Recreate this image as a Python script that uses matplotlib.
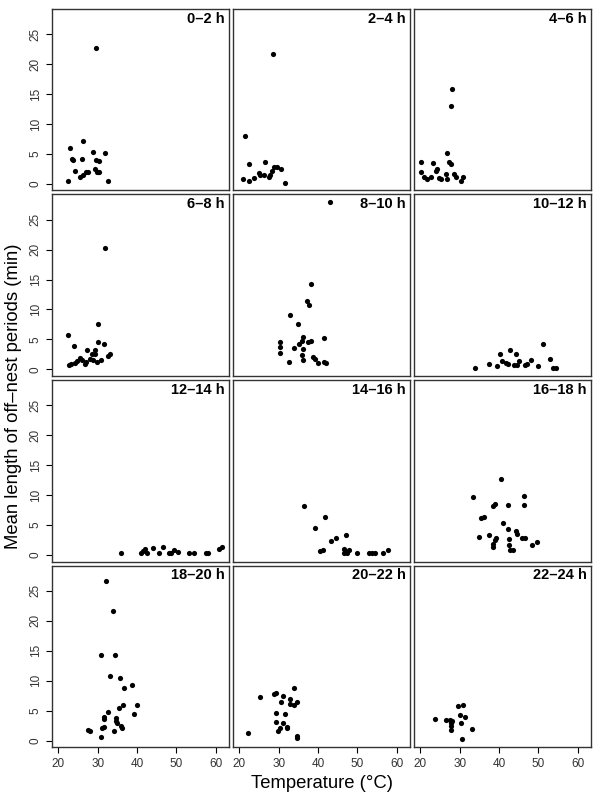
import numpy as np
from matplotlib import pyplot as plt

plt.rcParams["font.family"] = ["Liberation Sans", "DejaVu Sans"]

# time windows shown in each panel
periods = ["0–2 h", "2–4 h", "4–6 h", "6–8 h", "8–10 h", "10–12 h",
           "12–14 h", "14–16 h", "16–18 h", "18–20 h", "20–22 h", "22–24 h"]

# temperature (deg C) per panel
temps = [
    [29.6, 22.9, 26.2, 28.7, 31.9, 23.4, 23.8, 26.0, 29.6, 30.4, 24.2, 27.5, 26.9,
     26.2, 25.4, 29.2, 29.7, 30.4, 30.0, 22.3, 32.5],
    [28.6, 21.4, 22.4, 26.6, 20.9, 22.5, 23.6, 24.9, 25.3, 26.2, 27.5, 27.9, 28.3,
     28.7, 29.6, 30.6, 31.5],
    [28.1, 27.7, 26.7, 27.3, 27.7, 20.1, 20.1, 20.9, 21.8, 22.6, 23.3, 23.9, 24.3,
     24.7, 25.3, 26.4, 26.7, 28.6, 29.0, 30.3, 30.9],
    [31.9, 22.4, 30.0, 24.0, 30.0, 31.5, 27.3, 29.2, 28.6, 29.4, 33.0, 32.6, 25.4,
     26.0, 24.7, 26.9, 26.7, 28.1, 28.7, 29.7, 30.7, 22.7, 23.2, 24.3],
    [43.0, 38.3, 37.3, 37.8, 32.8, 34.8, 41.4, 36.2, 35.9, 38.1, 37.4, 35.1, 30.4,
     30.3, 30.3, 34.0, 36.1, 35.8, 36.1, 32.5, 38.7, 39.1, 39.9, 41.4, 41.9],
    [51.2, 42.9, 40.2, 44.2, 53.0, 40.8, 41.7, 42.3, 45.1, 43.8, 44.7, 37.5, 39.4,
     33.9, 46.5, 47.0, 48.2, 49.9, 53.7, 54.4],
    [36.0, 41.0, 42.1, 42.5, 41.5, 44.0, 45.5, 46.6, 48.1, 48.7, 49.5, 50.4, 53.3,
     54.4, 57.5, 58.0, 60.9, 61.6],
    [36.5, 41.8, 39.2, 43.4, 44.6, 47.0, 40.6, 41.3, 46.5, 46.9, 47.3, 46.6, 47.8,
     50.0, 52.9, 53.7, 54.6, 56.5, 57.8],
    [40.6, 33.4, 46.4, 46.4, 38.4, 39.1, 42.2, 35.3, 36.1, 41.0, 42.3, 44.2, 44.6,
     45.9, 46.6, 35.0, 37.4, 39.2, 39.1, 38.4, 38.5, 42.6, 42.5, 42.8, 43.6, 48.5,
     49.7],
    [32.0, 33.8, 30.9, 34.4, 33.1, 35.7, 38.7, 36.6, 40.0, 36.5, 35.3, 32.5, 39.1,
     31.7, 31.7, 34.6, 34.6, 35.0, 31.0, 31.7, 36.0, 36.1, 27.6, 28.1, 34.0, 30.9],
    [33.9, 25.3, 28.9, 29.4, 31.1, 32.9, 30.5, 32.8, 34.0, 34.7, 29.2, 31.7, 29.4,
     31.1, 30.3, 29.8, 32.2, 32.0, 22.3, 34.6, 34.7],
    [30.9, 29.6, 30.0, 31.3, 23.8, 26.6, 27.5, 28.1, 27.7, 30.3, 27.8, 33.1, 27.8,
     30.6],
]

# mean length of off-nest periods (min) per panel
lengths = [
    [22.7, 5.9, 7.1, 5.3, 5.2, 4.1, 3.9, 4.2, 3.9, 3.8, 2.2, 2.0, 1.9,
     1.5, 1.1, 2.5, 2.0, 2.0, 1.9, 0.55, 0.55],
    [21.7, 7.9, 3.3, 3.6, 0.8, 0.55, 1.0, 1.8, 1.5, 1.5, 1.1, 1.4, 2.2,
     2.8, 2.8, 2.5, 0.2],
    [15.9, 12.9, 5.1, 3.7, 3.3, 3.6, 1.9, 1.2, 0.8, 1.2, 3.4, 2.2, 2.5,
     0.9, 0.8, 1.7, 0.8, 1.7, 1.1, 0.4, 1.2],
    [20.3, 5.7, 7.6, 3.9, 4.6, 4.2, 3.2, 3.3, 2.6, 2.5, 2.5, 2.3, 1.9,
     1.6, 1.4, 1.3, 0.9, 1.7, 1.5, 1.2, 1.5, 0.8, 0.9, 1.0],
    [27.9, 14.2, 11.4, 10.8, 9.0, 7.5, 5.2, 5.4, 4.7, 4.8, 4.5, 4.2, 4.5,
     3.8, 2.7, 3.6, 3.4, 2.4, 1.5, 1.3, 2.1, 1.7, 1.0, 1.2, 1.1],
    [4.3, 3.2, 2.6, 2.5, 1.8, 1.4, 1.1, 0.9, 1.4, 0.7, 0.8, 0.9, 0.6,
     0.3, 0.7, 0.9, 1.5, 0.6, 0.3, 0.3],
    [0.3, 0.4, 1.0, 0.3, 0.7, 1.2, 0.4, 1.4, 0.3, 0.4, 0.9, 0.5, 0.3,
     0.4, 0.3, 0.3, 1.0, 1.3],
    [8.1, 6.3, 4.5, 2.3, 2.9, 3.4, 0.7, 0.8, 1.0, 0.6, 0.4, 0.4, 0.9,
     0.3, 0.3, 0.3, 0.3, 0.3, 0.9],
    [12.6, 9.7, 9.8, 8.4, 8.2, 8.5, 8.4, 6.2, 6.4, 5.3, 4.3, 4.0, 3.5,
     2.9, 2.8, 3.0, 3.4, 2.9, 2.5, 1.8, 1.4, 2.7, 1.6, 0.8, 0.8, 1.6,
     2.1],
    [26.7, 21.6, 14.3, 14.2, 10.8, 10.5, 9.3, 8.7, 5.9, 5.9, 5.5, 4.7, 4.4,
     4.0, 3.6, 3.8, 3.2, 3.0, 2.1, 2.2, 2.4, 2.1, 1.7, 1.6, 1.6, 0.6],
    [8.8, 7.3, 7.7, 8.0, 7.4, 7.0, 6.4, 6.1, 6.0, 6.5, 4.6, 4.4, 3.1,
     2.9, 2.1, 1.6, 2.1, 2.2, 1.3, 0.8, 0.5],
    [6.0, 5.7, 4.2, 4.0, 3.6, 3.4, 3.5, 3.2, 3.0, 2.9, 2.5, 2.0, 1.7,
     0.3],
]

x_ticks = [20, 30, 40, 50, 60]
y_ticks = [0, 5, 10, 15, 20, 25]

fig, axs = plt.subplots(4, 3, figsize=(6, 8), dpi=100, sharex=True, sharey=True)
fig.subplots_adjust(left=0.087, right=0.985, top=0.989, bottom=0.066,
                    wspace=0.023, hspace=0.022)

for i, ax in enumerate(axs.flat):
    ax.scatter(temps[i], lengths[i], s=14, color="black", linewidths=0)
    ax.text(0.975, 0.985, periods[i], transform=ax.transAxes, ha="right", va="top",
            fontsize=10.5, fontweight="bold")
    ax.set_xlim(18.4, 63.4)
    ax.set_ylim(-1.1, 29.2)
    ax.set_xticks(x_ticks)
    ax.set_yticks(y_ticks)
    for s in ax.spines.values():
        s.set_linewidth(1.0)
        s.set_color("#333333")
    ax.tick_params(direction="out", length=4.5, width=0.8, labelsize=8.5, pad=3,
                   labelcolor="#333333")
    row, col = divmod(i, 3)
    ax.tick_params(left=(col == 0), bottom=(row == 3))
    if col == 0:
        for lab in ax.get_yticklabels():
            lab.set_rotation(90)
            lab.set_va("center")

fig.text(0.536, 0.02, "Temperature (°C)", ha="center", va="center", fontsize=13.3)
fig.text(0.022, 0.505, "Mean length of off–nest periods (min)", ha="center", va="center",
         rotation=90, fontsize=13.3)

plt.savefig("out.png", dpi=100)
